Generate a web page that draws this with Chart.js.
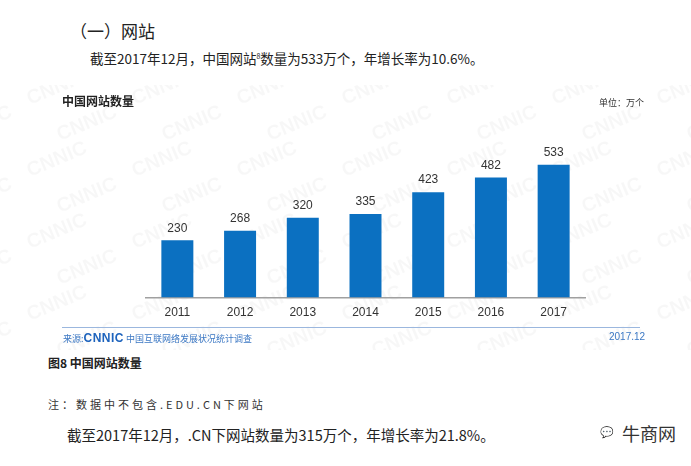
<!DOCTYPE html>
<html>
<head>
<meta charset="utf-8">
<script src="https://cdn.jsdelivr.net/npm/chart.js@4.4.1/dist/chart.umd.min.js"></script>
<style>
  html, body { margin: 0; padding: 0; background: #fff; }
  body { width: 691px; height: 466px; position: relative; overflow: hidden;
         font-family: "Noto Sans CJK SC", "Noto Sans", sans-serif; color: #222; }
  .t { position: absolute; white-space: nowrap; }
  #wrap { position: absolute; left: 0; top: 85px; width: 691px; height: 265px; }
  .sep { position: absolute; left: 62px; top: 327px; width: 578px; height: 1px; background: #9bb7de; }
</style>
</head>
<body>
<div class="t" style="left:70px; top:18px; font-size:17px;">（一）网站</div>
<div class="t" style="left:90px; top:48px; font-size:13.5px;">截至2017年12月，中国网站<sup style="font-size:7px;">8</sup>数量为533万个，年增长率为10.6%。</div>

<div id="wrap"><canvas id="c"></canvas></div>

<div class="t" style="left:62px; top:92px; font-size:12px; font-weight:bold;">中国网站数量</div>
<div class="t" style="left:599px; top:96px; font-size:9px; color:#333;">单位：万个</div>
<div class="sep"></div>
<div class="t" style="left:63px; top:331px; font-size:9px; color:#3c78c4;">来源:<span style="font-family:'Liberation Sans';font-weight:bold;font-size:12px;letter-spacing:0.5px;color:#1d63bd;">CNNIC</span> 中国互联网络发展状况统计调查</div>
<div class="t" style="left:609px; top:331px; font-size:10px; color:#3c78c4; font-family:'Liberation Sans';">2017.12</div>

<div class="t" style="left:48px; top:354px; font-size:12px; font-weight:bold;">图8 中国网站数量</div>
<div class="t" style="left:48px; top:396px; font-size:11px; color:#333; letter-spacing:3px;">注：数据中不包含.EDU.CN下网站</div>
<div class="t" style="left:67px; top:424px; font-size:14.5px;">截至2017年12月，.CN下网站数量为315万个，年增长率为21.8%。</div>
<div class="t" style="left:600px; top:423px; font-size:11px; color:#999;">&#128172;</div>
<div class="t" style="left:622px; top:420px; font-size:18px; color:#333;">牛商网</div>

<script>
const years = ['2011', '2012', '2013', '2014', '2015', '2016', '2017'];
const siteCounts = [230, 268, 320, 335, 423, 482, 533];

const watermark = {
  id: 'watermark',
  beforeDraw(chart) {
    const ctx = chart.ctx;
    ctx.save();
    ctx.fillStyle = 'rgba(0,0,0,0.03)';
    ctx.font = 'bold 20px "Liberation Sans"';
    for (let row = -1; row < 9; row++) {
      for (let col = -1; col < 8; col++) {
        const x = col * 105 + (row % 2) * 30 + 30;
        const y = row * 36 + 20;
        ctx.save();
        ctx.translate(x, y);
        ctx.rotate(-0.4);
        ctx.fillText('CNNIC', 0, 0);
        ctx.restore();
      }
    }
    ctx.restore();
  }
};

const valueLabels = {
  id: 'valueLabels',
  afterDatasetsDraw(chart) {
    const ctx = chart.ctx;
    const meta = chart.getDatasetMeta(0);
    ctx.save();
    ctx.fillStyle = '#333';
    ctx.font = '12px "Liberation Sans"';
    ctx.textAlign = 'center';
    ctx.textBaseline = 'bottom';
    meta.data.forEach((bar, i) => {
      ctx.fillText(siteCounts[i], bar.x, bar.y - 6);
    });
    ctx.restore();
  }
};

new Chart(document.getElementById('c'), {
  type: 'bar',
  data: {
    labels: years,
    datasets: [{
      data: siteCounts,
      backgroundColor: '#0b70c1',
      barPercentage: 0.51,
      categoryPercentage: 1
    }]
  },
  options: {
    responsive: true,
    maintainAspectRatio: false,
    animation: false,
    layout: { padding: { left: 146, right: 106, top: 63, bottom: 30 } },
    plugins: { legend: { display: false }, tooltip: { enabled: false } },
    scales: {
      x: {
        grid: { display: false },
        border: { color: '#a0a0a0', width: 1.5 },
        ticks: { color: '#333', font: { family: 'Liberation Sans', size: 12 }, padding: 0 }
      },
      y: { display: false, min: 0, max: 600 }
    }
  },
  plugins: [watermark, valueLabels]
});
</script>
</body>
</html>
